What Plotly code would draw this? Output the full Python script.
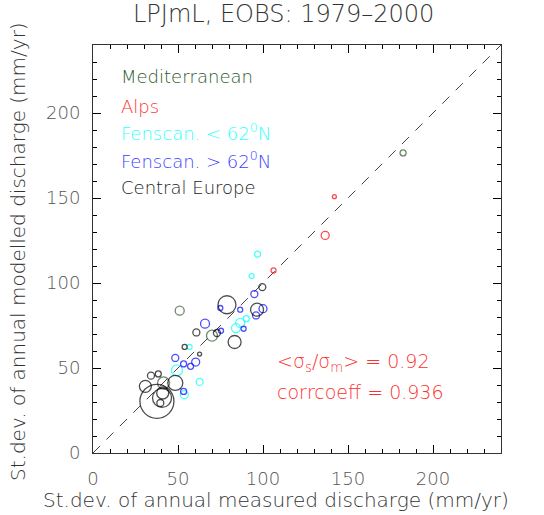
import plotly.graph_objects as go

# ---------------- data ----------------
# Mediterranean
med_x = [51.0, 70.0, 41.5, 182.4]
med_y = [83.7, 69.0, 41.2, 176.5]
med_s = [9, 11, 12, 6]

# Alps
alps_x = [106.2, 136.6, 142.0]
alps_y = [107.4, 128.0, 150.8]
alps_s = [5, 8, 4]

# Fennoscandia < 62N
fs_lo_x = [96.8, 93.3, 90.2, 86.6, 84.1, 56.8, 49.4, 62.7, 53.7]
fs_lo_y = [117.0, 104.1, 79.0, 76.5, 73.5, 62.4, 48.6, 41.8, 34.3]
fs_lo_s = [6, 5, 6, 9, 9, 5, 11, 7, 8]

# Fennoscandia > 62N
fs_hi_x = [65.9, 74.9, 75.3, 86.6, 88.6, 94.9, 95.9, 100.0, 48.4, 53.3, 57.4, 60.4, 53.3]
fs_hi_y = [76.1, 85.3, 71.9, 84.3, 73.1, 93.5, 80.9, 84.9, 55.9, 52.4, 51.0, 53.5, 36.2]
fs_hi_s = [9, 5, 5, 5, 5, 7, 7, 8, 7, 6, 6, 8, 6]

# Central Europe
ce_x = [37.6, 40.6, 39.6, 41.0, 30.8, 34.1, 38.4, 48.4, 53.9, 62.7, 60.8, 72.9, 78.8, 83.3, 96.5, 99.6]
ce_y = [30.4, 32.4, 29.4, 35.3, 39.2, 45.5, 46.5, 41.2, 62.4, 58.2, 70.9, 70.6, 87.2, 65.3, 84.3, 97.6]
ce_s = [34, 19, 7, 12, 12, 7, 6, 15, 5, 4, 7, 7, 18, 13, 13, 7]

one_to_one = [0, 240]
axis_range = [0, 240]
major_step = 50
minor_step = 10

region_names = ["Mediterranean", "Alps", "Fenscan. &lt; 62<sup>0</sup>N",
                "Fenscan. &gt; 62<sup>0</sup>N", "Central Europe"]
marker_colors = ["#2f552f", "#ff0000", "#00ffff", "#0000ff", "#000000"]
text_colors = ["#2a5a2a", "#ff3030", "#30ffff", "#4040ff", "#222222"]
legend_y = [221.5, 203.9, 188.6, 172.5, 156.0]

ratio_val = 0.92
corr_val = 0.936

FONT = "DejaVu Sans"
W = 300

fig = go.Figure()

fig.add_trace(go.Scatter(
    x=one_to_one, y=one_to_one, mode="lines",
    line=dict(color="#444444", width=1, dash="10px,9px"),
    hoverinfo="skip", showlegend=False))

series = [
    (med_x, med_y, med_s),
    (alps_x, alps_y, alps_s),
    (fs_lo_x, fs_lo_y, fs_lo_s),
    (fs_hi_x, fs_hi_y, fs_hi_s),
    (ce_x, ce_y, ce_s),
]
for (xs, ys, ss), col in zip(series, marker_colors):
    fig.add_trace(go.Scatter(
        x=xs, y=ys, mode="markers",
        marker=dict(symbol="circle-open", size=ss, color=col,
                    line=dict(color=col, width=1.3)),
        showlegend=False))

# empty trace so the mirrored (top/right) tick axes are drawn
fig.add_trace(go.Scatter(x=[], y=[], xaxis="x2", yaxis="y2", mode="markers",
                         hoverinfo="skip", showlegend=False))

# region labels
for name, col, yy in zip(region_names, text_colors, legend_y):
    fig.add_annotation(x=15.5, y=yy, xref="x", yref="y", text=name,
                       showarrow=False, xanchor="left", yanchor="middle",
                       font=dict(family=FONT, size=18, color=col, weight=W))

# stats text
fig.add_annotation(x=107.3, y=53.1, xref="x", yref="y",
                   text=f"&lt;σ<sub>s</sub>/σ<sub>m</sub>&gt; = {ratio_val:.2f}",
                   showarrow=False, xanchor="left", yanchor="middle",
                   font=dict(family=FONT, size=19, color="#ff3030", weight=W))
fig.add_annotation(x=107.3, y=36.1, xref="x", yref="y",
                   text=f"corrcoeff = {corr_val:.3f}",
                   showarrow=False, xanchor="left", yanchor="middle",
                   font=dict(family=FONT, size=19, color="#ff3030", weight=W))

# title and axis titles
fig.add_annotation(x=(283 - 93) / 408, y=(453 - 14) / 408, xref="paper", yref="paper",
                   text="LPJmL, EOBS: 1979–2000", showarrow=False,
                   xanchor="center", yanchor="middle",
                   font=dict(family=FONT, size=24, color="#333333", weight=W))
fig.add_annotation(x=(276 - 93) / 408, y=(453 - 500) / 408, xref="paper", yref="paper",
                   text="St.dev. of annual measured discharge (mm/yr)", showarrow=False,
                   xanchor="center", yanchor="middle",
                   font=dict(family=FONT, size=20, color="#333333", weight=W))
fig.add_annotation(x=(18 - 93) / 408, y=(453 - 252) / 408, xref="paper", yref="paper",
                   text="St.dev. of annual modelled discharge (mm/yr)", showarrow=False,
                   textangle=-90, xanchor="center", yanchor="middle",
                   font=dict(family=FONT, size=20, color="#333333", weight=W))

tick_common = dict(
    range=axis_range, tickmode="linear", tick0=0, dtick=major_step,
    ticks="inside", ticklen=8, tickwidth=1, tickcolor="#000000",
    showgrid=False, zeroline=False, layer="above traces",
    minor=dict(tick0=0, dtick=minor_step, ticks="inside", ticklen=4, tickwidth=1,
               tickcolor="#000000", showgrid=False),
)
fig.update_layout(
    xaxis=dict(**tick_common, showline=True, linecolor="#333333", linewidth=1,
               mirror="ticks", ticklabelstandoff=9,
               tickfont=dict(family=FONT, size=18, color="#555555", weight=W)),
    yaxis=dict(**tick_common, showline=True, linecolor="#333333", linewidth=1,
               mirror="ticks", ticklabelstandoff=8,
               tickfont=dict(family=FONT, size=18, color="#555555", weight=W)),
    xaxis2=dict(**tick_common, overlaying="x", side="top", anchor="y2",
                showticklabels=False, showline=False),
    yaxis2=dict(**tick_common, overlaying="y", side="right", anchor="x2",
                showticklabels=False, showline=False),
)

fig.update_layout(
    width=544, height=515,
    margin=dict(l=93, r=43, t=45, b=62),
    paper_bgcolor="white", plot_bgcolor="white",
    showlegend=False,
)

fig.write_html("out.html")
